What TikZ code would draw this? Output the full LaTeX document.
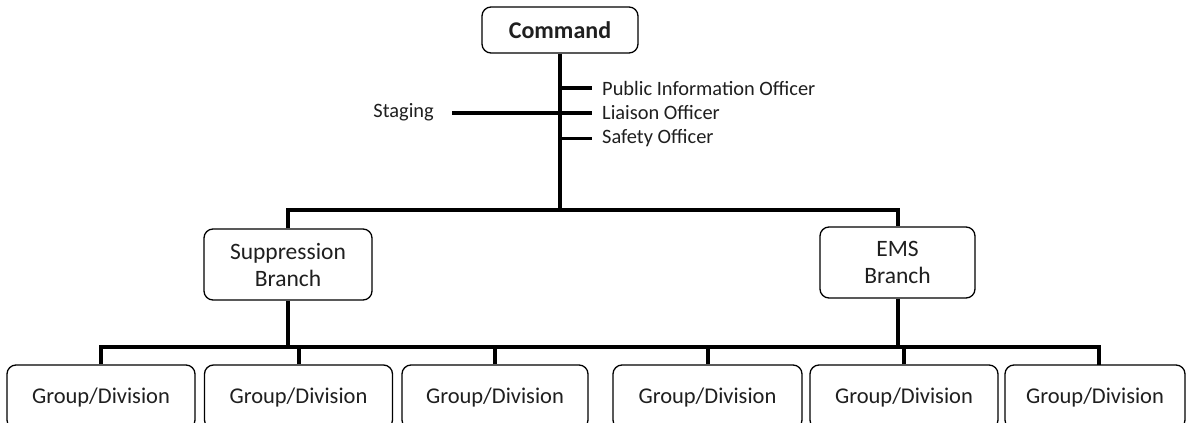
\documentclass[tikz,border=0pt]{standalone}
\usepackage{fontspec}
\setmainfont{Carlito}
\begin{document}
\begin{tikzpicture}[x=1pt,y=-1pt,
  box/.style={draw=black,line width=1.3pt,rounded corners=9pt,align=center,inner sep=0pt,text=black!88},
  gbox/.style={box,minimum width=188pt,minimum height=64pt,font=\fontsize{22.5}{27}\selectfont},
  bbox/.style={box,font=\fontsize{23.5}{28}\selectfont},
  conn/.style={line width=4pt},
  tick/.style={line width=3.5pt},
  lbl/.style={inner sep=0pt,text=black!88,font=\fontsize{20.4}{24}\selectfont}]
\useasboundingbox (0,0) rectangle (1187,423);
\clip (0,0) rectangle (1187,423);
\fill[white] (0,0) rectangle (1187,423);
% nodes
\node[box,minimum width=156pt,minimum height=46pt,font=\bfseries\fontsize{24}{28}\selectfont] (cmd) at (560,30) {Command};
\node[bbox,minimum width=168pt,minimum height=71pt] (sup) at (288,264.5) {Suppression\\[-1pt]Branch};
\node[bbox,minimum width=155pt,minimum height=71pt] (ems) at (897.5,262.5) {EMS\\[-1pt]Branch};
\node[gbox] (g1) at (101,397) {Group/Division};
\node[gbox] (g2) at (298.5,397) {Group/Division};
\node[gbox,minimum width=186pt] (g3) at (495,397) {Group/Division};
\node[gbox,minimum width=189pt] (g4) at (707.5,397) {Group/Division};
\node[gbox] (g5) at (904,397) {Group/Division};
\node[gbox,minimum width=180pt] (g6) at (1095,397) {Group/Division};
\node[lbl,anchor=east] (stg) at (434,112) {Staging};
\node[lbl,anchor=west] (pio) at (602,88) {Public Information Officer};
\node[lbl,anchor=west] (lia) at (602,113) {Liaison Officer};
\node[lbl,anchor=west] (saf) at (602,138.5) {Safety Officer};
% coordinates
\coordinate (b1) at (560,210);
\coordinate (b2) at (560,347);
\coordinate (stgend) at (452,113);
\coordinate (g6drop) at (1099,365);
% connectors
\draw[conn] (cmd.south) -- (b1);
\draw[conn] (sup.north) |- (b1) -| (ems.north);
\draw[conn] (sup.south) -- (sup.south |- b2);
\draw[conn] (ems.south) -- (ems.south |- b2);
\draw[conn] (g1.north) |- (b2) -| (g6drop);
\draw[conn] (g2.north) -- (g2.north |- b2);
\draw[conn] (g3.north) -- (g3.north |- b2);
\draw[conn] (g4.north) -- (g4.north |- b2);
\draw[conn] (g5.north) -- (g5.north |- b2);
\draw[tick] (stgend) -- (stgend -| cmd.south);
\draw[tick] (pio.west -| cmd.south) -- ([xshift=-10pt]pio.west);
\draw[tick] (lia.west -| cmd.south) -- ([xshift=-10pt]lia.west);
\draw[tick] (saf.west -| cmd.south) -- ([xshift=-10pt]saf.west);
\end{tikzpicture}
\end{document}
